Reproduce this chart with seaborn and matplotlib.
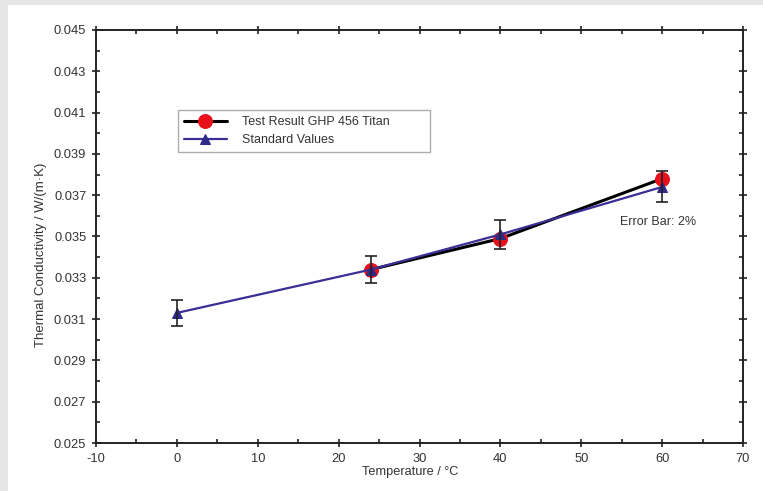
import matplotlib
matplotlib.use("Agg")
import matplotlib.pyplot as plt
import seaborn as sns
import pandas as pd
from matplotlib.patches import Rectangle
from matplotlib.ticker import MultipleLocator, FormatStrFormatter

# data
temp_std = [0, 24, 40, 60]
k_std = [0.0313, 0.0334, 0.0351, 0.0374]
temp_test = [24, 40, 60]
k_test = [0.0334, 0.0349, 0.0378]
err_pct = 0.02
y_ticks = [0.025, 0.027, 0.029, 0.031, 0.033, 0.035, 0.037, 0.039, 0.041, 0.043, 0.045]

sns.set_style("ticks")
plt.rcParams['font.family'] = ['Liberation Sans', 'DejaVu Sans']
plt.rcParams['axes.unicode_minus'] = False

fig = plt.figure(figsize=(7.63, 4.91), dpi=100)
fig.patch.set_facecolor('#e6e6e6')
# white panel (grey strip only at top and left)
fig.patches.append(Rectangle((8 / 763, 0), 1, (491 - 5) / 491, transform=fig.transFigure,
                             facecolor='white', edgecolor='none', zorder=-10))
ax = fig.add_axes([96 / 763, 48 / 491, (743 - 96) / 763, (443 - 30) / 491])
ax.set_zorder(1)

df_test = pd.DataFrame({'T': temp_test, 'k': k_test})
df_std = pd.DataFrame({'T': temp_std, 'k': k_std})

sns.lineplot(data=df_test, x='T', y='k', ax=ax, color='black', linewidth=2.2,
             marker='o', markersize=10, markerfacecolor='#e8101a', markeredgecolor='#e8101a',
             label='Test Result GHP 456 Titan', zorder=3)
sns.lineplot(data=df_std, x='T', y='k', ax=ax, color='#3a2f96', linewidth=1.6,
             marker='^', markersize=6.5, markerfacecolor='#2e2a8a', markeredgecolor='#2e2a8a',
             label='Standard Values', zorder=4)
ax.errorbar(temp_std, k_std, yerr=[v * err_pct for v in k_std], fmt='none',
            ecolor='#222222', elinewidth=1.2, capsize=4, capthick=1.2, zorder=5)

ax.set_xlim(-10, 70)
ax.set_ylim(0.025, 0.045)
ax.xaxis.set_major_locator(MultipleLocator(10))
ax.xaxis.set_minor_locator(MultipleLocator(5))
ax.set_yticks(y_ticks)
ax.yaxis.set_minor_locator(MultipleLocator(0.001))
ax.yaxis.set_major_formatter(FormatStrFormatter('%.3f'))
ax.tick_params(which='major', direction='inout', length=6, width=1.2, labelsize=9.3,
               top=True, right=True, labelcolor='#333333', color='#222222', pad=4)
ax.tick_params(which='minor', direction='in', length=3, width=1.2,
               top=True, right=True, color='#222222')
for s in ax.spines.values():
    s.set_linewidth(1.4)
    s.set_color('#222222')

ax.set_xlabel('Temperature / °C', fontsize=9.2, color='#333333')
ax.set_ylabel('Thermal Conductivity / W/(m·K)', fontsize=9.5, color='#333333')
ax.xaxis.set_label_coords(0.485, -0.055)
ax.yaxis.set_label_coords(-0.076, 0.455)

ax.text(54.8, 0.0357, 'Error Bar: 2%', fontsize=9, color='#333333', va='center')

leg = ax.legend(loc='upper left', bbox_to_anchor=(0.1267, 0.70, 0.3895, 0.106), mode='expand',
                borderaxespad=0, fontsize=9, frameon=True, fancybox=False, edgecolor='#999999',
                handlelength=3.4, borderpad=0.5, labelspacing=0.45, handletextpad=1.2)
leg.get_frame().set_linewidth(1.0)
for t in leg.get_texts():
    t.set_color('#333333')

fig.savefig('out.png', dpi=100, facecolor=fig.get_facecolor())
